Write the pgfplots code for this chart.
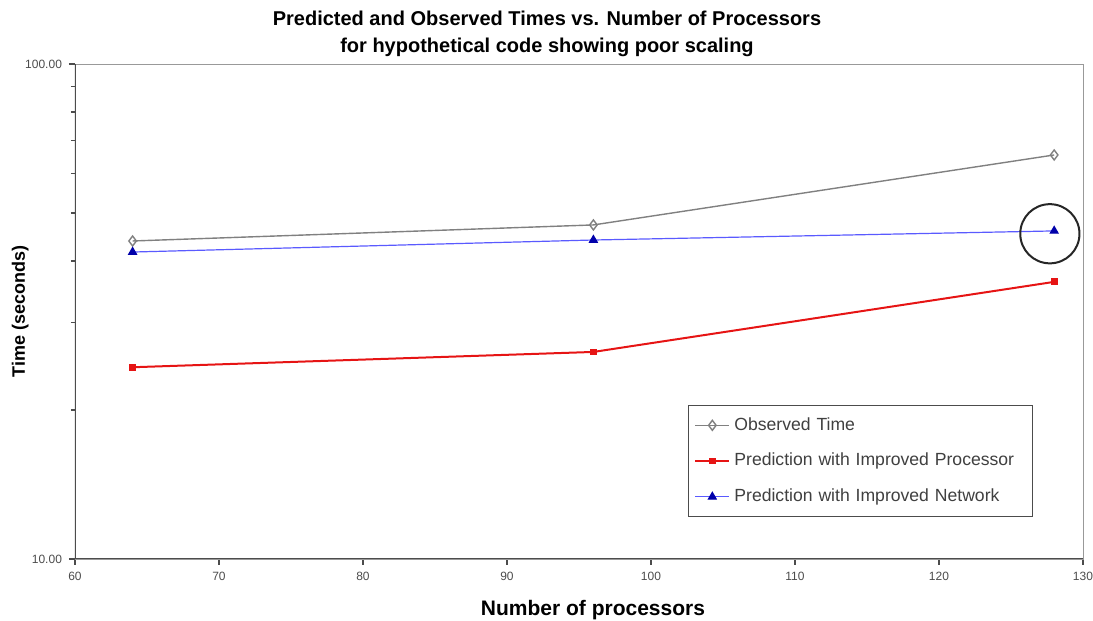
\documentclass[border=0pt]{standalone}
\usepackage{pgfplots}
\pgfplotsset{compat=1.18}
\usepackage{fontspec}
\setmainfont{Liberation Sans}
\definecolor{obsgray}{RGB}{128,128,128}
\definecolor{procred}{RGB}{230,20,20}
\definecolor{netblue}{RGB}{90,90,255}
\definecolor{netmark}{RGB}{0,0,170}
\begin{document}
\begin{tikzpicture}[x=0.5pt,y=0.5pt]
\begin{axis}[
  at={(0,0)}, anchor=south west,
  scale only axis, width=504pt, height=247.5pt,
  xmin=60, xmax=130, ymin=10, ymax=100,
  ymode=log,
  xtick={60,70,...,130},
  ytick={10,100},
  yticklabels={10.00,100.00},
  minor ytick={20,30,40,50,60,70,80,90},
  xtick pos=bottom, ytick pos=left,
  tick align=outside,
  major tick length=3pt, minor tick length=2pt,
  tick style={black!70, line width=0.6pt},
  axis line style={black!40},
  every tick label/.append style={font=\fontsize{6}{7}\selectfont, text=black!70},
  /pgf/number format/assume math mode=true,
  title={\textbf{Predicted and Observed Times vs. Number of Processors}\\\textbf{for hypothetical code showing poor scaling}},
  title style={font=\fontsize{10}{13.5}\selectfont, align=center, yshift=-6pt, xshift=-16pt},
  xlabel={\textbf{Number of processors}},
  ylabel={\textbf{Time (seconds)}},
  xlabel style={font=\fontsize{10.5}{12}\selectfont, yshift=-3pt, xshift=7pt},
  ylabel style={font=\fontsize{9}{10}\selectfont, yshift=-8.5pt},
  legend style={at={(0.608,0.311)}, anchor=north west, draw=black!70,
    font=\fontsize{8.8}{10}\selectfont, text=black!75, row sep=6pt, inner xsep=3pt, inner ysep=4pt,
    text width=144pt},
  legend cell align=left,
]
\draw[black!70, line width=0.7pt] (rel axis cs:0,0) -- (rel axis cs:1,0);
\draw[black!70, line width=0.7pt] (rel axis cs:0,0) -- (rel axis cs:0,1);
\addplot[obsgray, line width=0.7pt, mark=diamond, mark size=2.5pt, mark options={fill=white, draw=obsgray}]
  coordinates {(64,43.9) (96,47.3) (128,65.5)};
\addlegendentry{Observed Time}
\addplot[procred, line width=1pt, mark=square*, mark size=1.2pt, mark options={fill=procred}]
  coordinates {(64,24.4) (96,26.2) (128,36.3)};
\addlegendentry{Prediction with Improved Processor}
\addplot[netblue, line width=0.6pt, mark=triangle*, mark size=2.2pt, mark options={fill=netmark, draw=netmark}]
  coordinates {(64,41.7) (96,44.1) (128,46.0)};
\addlegendentry{Prediction with Improved Network}
\draw[black!85, line width=1pt] (axis cs:127.7,45.4) circle[radius=14.8pt];
\end{axis}
\pgfresetboundingbox
\useasboundingbox (-75,-62) rectangle (1018,559);
\end{tikzpicture}
\end{document}
